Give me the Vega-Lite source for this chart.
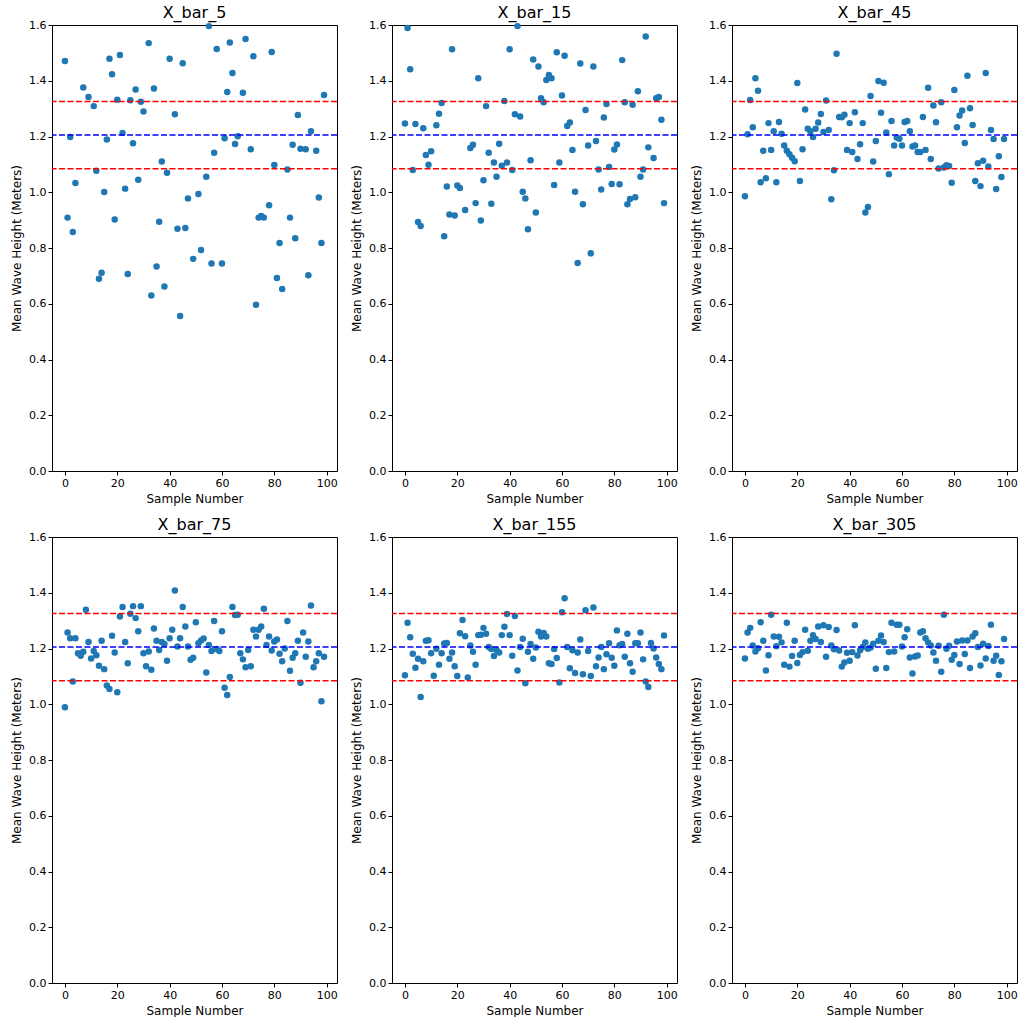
{
  "$schema": "https://vega.github.io/schema/vega-lite/v6.json",
  "background": "white",
  "padding": {"left": 10, "top": 4, "right": 5, "bottom": 0},
  "config": {
    "font": "DejaVu Sans",
    "view": {"stroke": "black", "strokeWidth": 1},
    "axis": {
      "grid": false, "domain": false, "tickColor": "black", "labelColor": "black", "titleColor": "black",
      "labelFontSize": 11, "titleFontSize": 12, "titleFontWeight": "normal", "tickSize": 4, "titlePadding": 5,
      "labelFont": "DejaVu Sans", "titleFont": "DejaVu Sans"
    },
    "header": {"labelFontSize": 16, "labelFont": "DejaVu Sans", "labelColor": "black", "labelPadding": -2}
  },
  "data": {"values": [
    {"panel":"X_bar_5","sample":0,"mean":1.471},{"panel":"X_bar_5","sample":1,"mean":0.909},{"panel":"X_bar_5","sample":2,"mean":1.198},{"panel":"X_bar_5","sample":3,"mean":0.857},{"panel":"X_bar_5","sample":4,"mean":1.033},{"panel":"X_bar_5","sample":7,"mean":1.376},{"panel":"X_bar_5","sample":9,"mean":1.342},{"panel":"X_bar_5","sample":11,"mean":1.309},{"panel":"X_bar_5","sample":12,"mean":1.077},{"panel":"X_bar_5","sample":13,"mean":0.690},
    {"panel":"X_bar_5","sample":14,"mean":0.711},{"panel":"X_bar_5","sample":15,"mean":1.001},{"panel":"X_bar_5","sample":16,"mean":1.189},{"panel":"X_bar_5","sample":17,"mean":1.479},{"panel":"X_bar_5","sample":18,"mean":1.423},{"panel":"X_bar_5","sample":19,"mean":0.902},{"panel":"X_bar_5","sample":20,"mean":1.332},{"panel":"X_bar_5","sample":21,"mean":1.492},{"panel":"X_bar_5","sample":22,"mean":1.213},{"panel":"X_bar_5","sample":23,"mean":1.013},
    {"panel":"X_bar_5","sample":24,"mean":0.707},{"panel":"X_bar_5","sample":25,"mean":1.330},{"panel":"X_bar_5","sample":26,"mean":1.176},{"panel":"X_bar_5","sample":27,"mean":1.369},{"panel":"X_bar_5","sample":28,"mean":1.045},{"panel":"X_bar_5","sample":29,"mean":1.325},{"panel":"X_bar_5","sample":30,"mean":1.290},{"panel":"X_bar_5","sample":32,"mean":1.535},{"panel":"X_bar_5","sample":33,"mean":0.630},{"panel":"X_bar_5","sample":34,"mean":1.372},
    {"panel":"X_bar_5","sample":35,"mean":0.734},{"panel":"X_bar_5","sample":36,"mean":0.894},{"panel":"X_bar_5","sample":37,"mean":1.110},{"panel":"X_bar_5","sample":38,"mean":0.662},{"panel":"X_bar_5","sample":39,"mean":1.070},{"panel":"X_bar_5","sample":40,"mean":1.479},{"panel":"X_bar_5","sample":42,"mean":1.280},{"panel":"X_bar_5","sample":43,"mean":0.869},{"panel":"X_bar_5","sample":44,"mean":0.556},{"panel":"X_bar_5","sample":45,"mean":1.463},
    {"panel":"X_bar_5","sample":46,"mean":0.872},{"panel":"X_bar_5","sample":47,"mean":0.978},{"panel":"X_bar_5","sample":49,"mean":0.761},{"panel":"X_bar_5","sample":51,"mean":0.994},{"panel":"X_bar_5","sample":52,"mean":0.793},{"panel":"X_bar_5","sample":54,"mean":1.056},{"panel":"X_bar_5","sample":55,"mean":1.596},{"panel":"X_bar_5","sample":56,"mean":0.744},{"panel":"X_bar_5","sample":57,"mean":1.142},{"panel":"X_bar_5","sample":58,"mean":1.514},
    {"panel":"X_bar_5","sample":60,"mean":0.744},{"panel":"X_bar_5","sample":61,"mean":1.194},{"panel":"X_bar_5","sample":62,"mean":1.360},{"panel":"X_bar_5","sample":63,"mean":1.537},{"panel":"X_bar_5","sample":64,"mean":1.428},{"panel":"X_bar_5","sample":65,"mean":1.173},{"panel":"X_bar_5","sample":66,"mean":1.201},{"panel":"X_bar_5","sample":68,"mean":1.357},{"panel":"X_bar_5","sample":69,"mean":1.550},{"panel":"X_bar_5","sample":71,"mean":1.154},
    {"panel":"X_bar_5","sample":72,"mean":1.488},{"panel":"X_bar_5","sample":73,"mean":0.596},{"panel":"X_bar_5","sample":74,"mean":0.909},{"panel":"X_bar_5","sample":75,"mean":0.915},{"panel":"X_bar_5","sample":76,"mean":0.909},{"panel":"X_bar_5","sample":78,"mean":0.953},{"panel":"X_bar_5","sample":79,"mean":1.503},{"panel":"X_bar_5","sample":80,"mean":1.098},{"panel":"X_bar_5","sample":81,"mean":0.692},{"panel":"X_bar_5","sample":82,"mean":0.818},
    {"panel":"X_bar_5","sample":83,"mean":0.653},{"panel":"X_bar_5","sample":85,"mean":1.082},{"panel":"X_bar_5","sample":86,"mean":0.909},{"panel":"X_bar_5","sample":87,"mean":1.170},{"panel":"X_bar_5","sample":88,"mean":0.835},{"panel":"X_bar_5","sample":89,"mean":1.277},{"panel":"X_bar_5","sample":90,"mean":1.156},{"panel":"X_bar_5","sample":92,"mean":1.154},{"panel":"X_bar_5","sample":93,"mean":0.702},{"panel":"X_bar_5","sample":94,"mean":1.219},
    {"panel":"X_bar_5","sample":96,"mean":1.149},{"panel":"X_bar_5","sample":97,"mean":0.981},{"panel":"X_bar_5","sample":98,"mean":0.818},{"panel":"X_bar_5","sample":99,"mean":1.349},

    {"panel":"X_bar_15","sample":0,"mean":1.247},{"panel":"X_bar_15","sample":1,"mean":1.589},{"panel":"X_bar_15","sample":2,"mean":1.441},{"panel":"X_bar_15","sample":3,"mean":1.080},{"panel":"X_bar_15","sample":4,"mean":1.245},{"panel":"X_bar_15","sample":5,"mean":0.893},{"panel":"X_bar_15","sample":6,"mean":0.879},{"panel":"X_bar_15","sample":7,"mean":1.230},{"panel":"X_bar_15","sample":8,"mean":1.134},{"panel":"X_bar_15","sample":9,"mean":1.099},
    {"panel":"X_bar_15","sample":10,"mean":1.147},{"panel":"X_bar_15","sample":12,"mean":1.240},{"panel":"X_bar_15","sample":13,"mean":1.282},{"panel":"X_bar_15","sample":14,"mean":1.320},{"panel":"X_bar_15","sample":15,"mean":0.842},{"panel":"X_bar_15","sample":16,"mean":1.021},{"panel":"X_bar_15","sample":17,"mean":0.920},{"panel":"X_bar_15","sample":18,"mean":1.513},{"panel":"X_bar_15","sample":19,"mean":0.917},{"panel":"X_bar_15","sample":20,"mean":1.024},
    {"panel":"X_bar_15","sample":21,"mean":1.015},{"panel":"X_bar_15","sample":23,"mean":0.936},{"panel":"X_bar_15","sample":25,"mean":1.159},{"panel":"X_bar_15","sample":26,"mean":1.170},{"panel":"X_bar_15","sample":27,"mean":0.961},{"panel":"X_bar_15","sample":28,"mean":1.409},{"panel":"X_bar_15","sample":29,"mean":0.899},{"panel":"X_bar_15","sample":30,"mean":1.043},{"panel":"X_bar_15","sample":31,"mean":1.309},{"panel":"X_bar_15","sample":32,"mean":1.142},
    {"panel":"X_bar_15","sample":33,"mean":0.959},{"panel":"X_bar_15","sample":34,"mean":1.107},{"panel":"X_bar_15","sample":35,"mean":1.056},{"panel":"X_bar_15","sample":36,"mean":1.174},{"panel":"X_bar_15","sample":37,"mean":1.095},{"panel":"X_bar_15","sample":38,"mean":1.327},{"panel":"X_bar_15","sample":39,"mean":1.107},{"panel":"X_bar_15","sample":40,"mean":1.513},{"panel":"X_bar_15","sample":41,"mean":1.080},{"panel":"X_bar_15","sample":42,"mean":1.280},
    {"panel":"X_bar_15","sample":43,"mean":1.596},{"panel":"X_bar_15","sample":44,"mean":1.272},{"panel":"X_bar_15","sample":45,"mean":1.002},{"panel":"X_bar_15","sample":46,"mean":0.978},{"panel":"X_bar_15","sample":47,"mean":0.867},{"panel":"X_bar_15","sample":48,"mean":1.115},{"panel":"X_bar_15","sample":49,"mean":1.476},{"panel":"X_bar_15","sample":50,"mean":0.927},{"panel":"X_bar_15","sample":51,"mean":1.451},{"panel":"X_bar_15","sample":52,"mean":1.337},
    {"panel":"X_bar_15","sample":53,"mean":1.323},{"panel":"X_bar_15","sample":54,"mean":1.403},{"panel":"X_bar_15","sample":55,"mean":1.421},{"panel":"X_bar_15","sample":56,"mean":1.409},{"panel":"X_bar_15","sample":57,"mean":1.026},{"panel":"X_bar_15","sample":58,"mean":1.502},{"panel":"X_bar_15","sample":59,"mean":1.107},{"panel":"X_bar_15","sample":60,"mean":1.347},{"panel":"X_bar_15","sample":61,"mean":1.490},{"panel":"X_bar_15","sample":62,"mean":1.238},
    {"panel":"X_bar_15","sample":63,"mean":1.250},{"panel":"X_bar_15","sample":64,"mean":1.152},{"panel":"X_bar_15","sample":65,"mean":1.002},{"panel":"X_bar_15","sample":66,"mean":0.746},{"panel":"X_bar_15","sample":67,"mean":1.462},{"panel":"X_bar_15","sample":68,"mean":0.957},{"panel":"X_bar_15","sample":69,"mean":1.295},{"panel":"X_bar_15","sample":70,"mean":1.168},{"panel":"X_bar_15","sample":71,"mean":0.781},{"panel":"X_bar_15","sample":72,"mean":1.451},
    {"panel":"X_bar_15","sample":73,"mean":1.184},{"panel":"X_bar_15","sample":74,"mean":1.082},{"panel":"X_bar_15","sample":75,"mean":1.010},{"panel":"X_bar_15","sample":76,"mean":1.268},{"panel":"X_bar_15","sample":77,"mean":1.317},{"panel":"X_bar_15","sample":78,"mean":1.091},{"panel":"X_bar_15","sample":79,"mean":1.030},{"panel":"X_bar_15","sample":80,"mean":1.153},{"panel":"X_bar_15","sample":81,"mean":1.171},{"panel":"X_bar_15","sample":82,"mean":1.029},
    {"panel":"X_bar_15","sample":83,"mean":1.474},{"panel":"X_bar_15","sample":84,"mean":1.323},{"panel":"X_bar_15","sample":85,"mean":0.957},{"panel":"X_bar_15","sample":86,"mean":0.976},{"panel":"X_bar_15","sample":87,"mean":1.314},{"panel":"X_bar_15","sample":88,"mean":0.982},{"panel":"X_bar_15","sample":89,"mean":1.362},{"panel":"X_bar_15","sample":90,"mean":1.056},{"panel":"X_bar_15","sample":91,"mean":1.082},{"panel":"X_bar_15","sample":92,"mean":1.559},
    {"panel":"X_bar_15","sample":93,"mean":1.161},{"panel":"X_bar_15","sample":95,"mean":1.123},{"panel":"X_bar_15","sample":96,"mean":1.337},{"panel":"X_bar_15","sample":97,"mean":1.342},{"panel":"X_bar_15","sample":98,"mean":1.260},{"panel":"X_bar_15","sample":99,"mean":0.961},

    {"panel":"X_bar_45","sample":0,"mean":0.986},{"panel":"X_bar_45","sample":1,"mean":1.208},{"panel":"X_bar_45","sample":2,"mean":1.331},{"panel":"X_bar_45","sample":3,"mean":1.233},{"panel":"X_bar_45","sample":4,"mean":1.409},{"panel":"X_bar_45","sample":5,"mean":1.364},{"panel":"X_bar_45","sample":6,"mean":1.036},{"panel":"X_bar_45","sample":7,"mean":1.149},{"panel":"X_bar_45","sample":8,"mean":1.050},{"panel":"X_bar_45","sample":9,"mean":1.248},
    {"panel":"X_bar_45","sample":10,"mean":1.152},{"panel":"X_bar_45","sample":11,"mean":1.219},{"panel":"X_bar_45","sample":12,"mean":1.036},{"panel":"X_bar_45","sample":13,"mean":1.252},{"panel":"X_bar_45","sample":14,"mean":1.210},{"panel":"X_bar_45","sample":15,"mean":1.168},{"panel":"X_bar_45","sample":16,"mean":1.149},{"panel":"X_bar_45","sample":17,"mean":1.136},{"panel":"X_bar_45","sample":18,"mean":1.124},{"panel":"X_bar_45","sample":19,"mean":1.111},
    {"panel":"X_bar_45","sample":20,"mean":1.392},{"panel":"X_bar_45","sample":21,"mean":1.040},{"panel":"X_bar_45","sample":22,"mean":1.154},{"panel":"X_bar_45","sample":23,"mean":1.297},{"panel":"X_bar_45","sample":24,"mean":1.228},{"panel":"X_bar_45","sample":25,"mean":1.219},{"panel":"X_bar_45","sample":26,"mean":1.198},{"panel":"X_bar_45","sample":27,"mean":1.228},{"panel":"X_bar_45","sample":28,"mean":1.250},{"panel":"X_bar_45","sample":29,"mean":1.281},
    {"panel":"X_bar_45","sample":30,"mean":1.216},{"panel":"X_bar_45","sample":31,"mean":1.329},{"panel":"X_bar_45","sample":32,"mean":1.223},{"panel":"X_bar_45","sample":33,"mean":0.975},{"panel":"X_bar_45","sample":34,"mean":1.079},{"panel":"X_bar_45","sample":35,"mean":1.497},{"panel":"X_bar_45","sample":36,"mean":1.270},{"panel":"X_bar_45","sample":37,"mean":1.269},{"panel":"X_bar_45","sample":38,"mean":1.278},{"panel":"X_bar_45","sample":39,"mean":1.152},
    {"panel":"X_bar_45","sample":40,"mean":1.248},{"panel":"X_bar_45","sample":41,"mean":1.144},{"panel":"X_bar_45","sample":42,"mean":1.287},{"panel":"X_bar_45","sample":43,"mean":1.119},{"panel":"X_bar_45","sample":44,"mean":1.172},{"panel":"X_bar_45","sample":45,"mean":1.248},{"panel":"X_bar_45","sample":46,"mean":0.927},{"panel":"X_bar_45","sample":47,"mean":0.947},{"panel":"X_bar_45","sample":48,"mean":1.345},{"panel":"X_bar_45","sample":49,"mean":1.110},
    {"panel":"X_bar_45","sample":50,"mean":1.184},{"panel":"X_bar_45","sample":51,"mean":1.399},{"panel":"X_bar_45","sample":52,"mean":1.285},{"panel":"X_bar_45","sample":53,"mean":1.393},{"panel":"X_bar_45","sample":54,"mean":1.214},{"panel":"X_bar_45","sample":55,"mean":1.065},{"panel":"X_bar_45","sample":56,"mean":1.256},{"panel":"X_bar_45","sample":57,"mean":1.168},{"panel":"X_bar_45","sample":58,"mean":1.196},{"panel":"X_bar_45","sample":59,"mean":1.192},
    {"panel":"X_bar_45","sample":60,"mean":1.168},{"panel":"X_bar_45","sample":61,"mean":1.252},{"panel":"X_bar_45","sample":62,"mean":1.256},{"panel":"X_bar_45","sample":63,"mean":1.219},{"panel":"X_bar_45","sample":64,"mean":1.164},{"panel":"X_bar_45","sample":65,"mean":1.168},{"panel":"X_bar_45","sample":66,"mean":1.144},{"panel":"X_bar_45","sample":67,"mean":1.144},{"panel":"X_bar_45","sample":68,"mean":1.270},{"panel":"X_bar_45","sample":69,"mean":1.152},
    {"panel":"X_bar_45","sample":70,"mean":1.375},{"panel":"X_bar_45","sample":71,"mean":1.119},{"panel":"X_bar_45","sample":72,"mean":1.311},{"panel":"X_bar_45","sample":73,"mean":1.251},{"panel":"X_bar_45","sample":74,"mean":1.085},{"panel":"X_bar_45","sample":75,"mean":1.323},{"panel":"X_bar_45","sample":76,"mean":1.089},{"panel":"X_bar_45","sample":77,"mean":1.097},{"panel":"X_bar_45","sample":78,"mean":1.094},{"panel":"X_bar_45","sample":79,"mean":1.034},
    {"panel":"X_bar_45","sample":80,"mean":1.367},{"panel":"X_bar_45","sample":81,"mean":1.233},{"panel":"X_bar_45","sample":82,"mean":1.275},{"panel":"X_bar_45","sample":83,"mean":1.293},{"panel":"X_bar_45","sample":84,"mean":1.177},{"panel":"X_bar_45","sample":85,"mean":1.418},{"panel":"X_bar_45","sample":86,"mean":1.301},{"panel":"X_bar_45","sample":87,"mean":1.241},{"panel":"X_bar_45","sample":88,"mean":1.040},{"panel":"X_bar_45","sample":89,"mean":1.104},
    {"panel":"X_bar_45","sample":90,"mean":1.022},{"panel":"X_bar_45","sample":91,"mean":1.113},{"panel":"X_bar_45","sample":92,"mean":1.428},{"panel":"X_bar_45","sample":93,"mean":1.092},{"panel":"X_bar_45","sample":94,"mean":1.223},{"panel":"X_bar_45","sample":95,"mean":1.191},{"panel":"X_bar_45","sample":96,"mean":1.012},{"panel":"X_bar_45","sample":97,"mean":1.129},{"panel":"X_bar_45","sample":98,"mean":1.055},{"panel":"X_bar_45","sample":99,"mean":1.191},

    {"panel":"X_bar_75","sample":0,"mean":0.989},{"panel":"X_bar_75","sample":1,"mean":1.257},{"panel":"X_bar_75","sample":2,"mean":1.237},{"panel":"X_bar_75","sample":3,"mean":1.082},{"panel":"X_bar_75","sample":4,"mean":1.237},{"panel":"X_bar_75","sample":5,"mean":1.183},{"panel":"X_bar_75","sample":6,"mean":1.174},{"panel":"X_bar_75","sample":7,"mean":1.188},{"panel":"X_bar_75","sample":8,"mean":1.339},{"panel":"X_bar_75","sample":9,"mean":1.223},
    {"panel":"X_bar_75","sample":10,"mean":1.164},{"panel":"X_bar_75","sample":11,"mean":1.191},{"panel":"X_bar_75","sample":12,"mean":1.176},{"panel":"X_bar_75","sample":13,"mean":1.138},{"panel":"X_bar_75","sample":14,"mean":1.228},{"panel":"X_bar_75","sample":15,"mean":1.126},{"panel":"X_bar_75","sample":16,"mean":1.067},{"panel":"X_bar_75","sample":17,"mean":1.055},{"panel":"X_bar_75","sample":18,"mean":1.246},{"panel":"X_bar_75","sample":19,"mean":1.186},
    {"panel":"X_bar_75","sample":20,"mean":1.043},{"panel":"X_bar_75","sample":21,"mean":1.315},{"panel":"X_bar_75","sample":22,"mean":1.349},{"panel":"X_bar_75","sample":23,"mean":1.223},{"panel":"X_bar_75","sample":24,"mean":1.147},{"panel":"X_bar_75","sample":25,"mean":1.325},{"panel":"X_bar_75","sample":26,"mean":1.352},{"panel":"X_bar_75","sample":27,"mean":1.309},{"panel":"X_bar_75","sample":28,"mean":1.262},{"panel":"X_bar_75","sample":29,"mean":1.352},
    {"panel":"X_bar_75","sample":30,"mean":1.183},{"panel":"X_bar_75","sample":31,"mean":1.136},{"panel":"X_bar_75","sample":32,"mean":1.189},{"panel":"X_bar_75","sample":33,"mean":1.124},{"panel":"X_bar_75","sample":34,"mean":1.272},{"panel":"X_bar_75","sample":35,"mean":1.228},{"panel":"X_bar_75","sample":36,"mean":1.195},{"panel":"X_bar_75","sample":37,"mean":1.223},{"panel":"X_bar_75","sample":38,"mean":1.216},{"panel":"X_bar_75","sample":39,"mean":1.156},
    {"panel":"X_bar_75","sample":40,"mean":1.237},{"panel":"X_bar_75","sample":41,"mean":1.267},{"panel":"X_bar_75","sample":42,"mean":1.408},{"panel":"X_bar_75","sample":43,"mean":1.207},{"panel":"X_bar_75","sample":44,"mean":1.237},{"panel":"X_bar_75","sample":45,"mean":1.349},{"panel":"X_bar_75","sample":46,"mean":1.279},{"panel":"X_bar_75","sample":47,"mean":1.207},{"panel":"X_bar_75","sample":48,"mean":1.160},{"panel":"X_bar_75","sample":49,"mean":1.167},
    {"panel":"X_bar_75","sample":50,"mean":1.294},{"panel":"X_bar_75","sample":51,"mean":1.219},{"panel":"X_bar_75","sample":52,"mean":1.229},{"panel":"X_bar_75","sample":53,"mean":1.236},{"panel":"X_bar_75","sample":54,"mean":1.114},{"panel":"X_bar_75","sample":55,"mean":1.213},{"panel":"X_bar_75","sample":56,"mean":1.191},{"panel":"X_bar_75","sample":57,"mean":1.299},{"panel":"X_bar_75","sample":58,"mean":1.198},{"panel":"X_bar_75","sample":59,"mean":1.191},
    {"panel":"X_bar_75","sample":60,"mean":1.262},{"panel":"X_bar_75","sample":61,"mean":1.059},{"panel":"X_bar_75","sample":62,"mean":1.033},{"panel":"X_bar_75","sample":63,"mean":1.098},{"panel":"X_bar_75","sample":64,"mean":1.349},{"panel":"X_bar_75","sample":65,"mean":1.320},{"panel":"X_bar_75","sample":66,"mean":1.321},{"panel":"X_bar_75","sample":67,"mean":1.183},{"panel":"X_bar_75","sample":68,"mean":1.161},{"panel":"X_bar_75","sample":69,"mean":1.133},
    {"panel":"X_bar_75","sample":70,"mean":1.195},{"panel":"X_bar_75","sample":71,"mean":1.136},{"panel":"X_bar_75","sample":72,"mean":1.267},{"panel":"X_bar_75","sample":73,"mean":1.243},{"panel":"X_bar_75","sample":74,"mean":1.267},{"panel":"X_bar_75","sample":75,"mean":1.279},{"panel":"X_bar_75","sample":76,"mean":1.343},{"panel":"X_bar_75","sample":77,"mean":1.213},{"panel":"X_bar_75","sample":78,"mean":1.243},{"panel":"X_bar_75","sample":79,"mean":1.193},
    {"panel":"X_bar_75","sample":80,"mean":1.225},{"panel":"X_bar_75","sample":81,"mean":1.232},{"panel":"X_bar_75","sample":82,"mean":1.181},{"panel":"X_bar_75","sample":83,"mean":1.154},{"panel":"X_bar_75","sample":84,"mean":1.200},{"panel":"X_bar_75","sample":85,"mean":1.299},{"panel":"X_bar_75","sample":86,"mean":1.120},{"panel":"X_bar_75","sample":87,"mean":1.167},{"panel":"X_bar_75","sample":88,"mean":1.183},{"panel":"X_bar_75","sample":89,"mean":1.228},
    {"panel":"X_bar_75","sample":90,"mean":1.077},{"panel":"X_bar_75","sample":91,"mean":1.257},{"panel":"X_bar_75","sample":92,"mean":1.170},{"panel":"X_bar_75","sample":93,"mean":1.225},{"panel":"X_bar_75","sample":94,"mean":1.354},{"panel":"X_bar_75","sample":95,"mean":1.133},{"panel":"X_bar_75","sample":96,"mean":1.154},{"panel":"X_bar_75","sample":97,"mean":1.183},{"panel":"X_bar_75","sample":98,"mean":1.011},{"panel":"X_bar_75","sample":99,"mean":1.170},

    {"panel":"X_bar_155","sample":0,"mean":1.104},{"panel":"X_bar_155","sample":1,"mean":1.292},{"panel":"X_bar_155","sample":2,"mean":1.240},{"panel":"X_bar_155","sample":3,"mean":1.181},{"panel":"X_bar_155","sample":4,"mean":1.131},{"panel":"X_bar_155","sample":5,"mean":1.163},{"panel":"X_bar_155","sample":6,"mean":1.026},{"panel":"X_bar_155","sample":7,"mean":1.154},{"panel":"X_bar_155","sample":8,"mean":1.228},{"panel":"X_bar_155","sample":9,"mean":1.230},
    {"panel":"X_bar_155","sample":10,"mean":1.183},{"panel":"X_bar_155","sample":11,"mean":1.102},{"panel":"X_bar_155","sample":12,"mean":1.199},{"panel":"X_bar_155","sample":13,"mean":1.142},{"panel":"X_bar_155","sample":14,"mean":1.183},{"panel":"X_bar_155","sample":15,"mean":1.218},{"panel":"X_bar_155","sample":16,"mean":1.220},{"panel":"X_bar_155","sample":17,"mean":1.163},{"panel":"X_bar_155","sample":18,"mean":1.186},{"panel":"X_bar_155","sample":19,"mean":1.136},
    {"panel":"X_bar_155","sample":20,"mean":1.101},{"panel":"X_bar_155","sample":21,"mean":1.255},{"panel":"X_bar_155","sample":22,"mean":1.302},{"panel":"X_bar_155","sample":23,"mean":1.244},{"panel":"X_bar_155","sample":24,"mean":1.096},{"panel":"X_bar_155","sample":25,"mean":1.211},{"panel":"X_bar_155","sample":26,"mean":1.188},{"panel":"X_bar_155","sample":27,"mean":1.142},{"panel":"X_bar_155","sample":28,"mean":1.248},{"panel":"X_bar_155","sample":29,"mean":1.249},
    {"panel":"X_bar_155","sample":30,"mean":1.274},{"panel":"X_bar_155","sample":31,"mean":1.253},{"panel":"X_bar_155","sample":32,"mean":1.205},{"panel":"X_bar_155","sample":33,"mean":1.198},{"panel":"X_bar_155","sample":34,"mean":1.173},{"panel":"X_bar_155","sample":35,"mean":1.195},{"panel":"X_bar_155","sample":36,"mean":1.186},{"panel":"X_bar_155","sample":37,"mean":1.248},{"panel":"X_bar_155","sample":38,"mean":1.278},{"panel":"X_bar_155","sample":39,"mean":1.324},
    {"panel":"X_bar_155","sample":40,"mean":1.248},{"panel":"X_bar_155","sample":41,"mean":1.174},{"panel":"X_bar_155","sample":42,"mean":1.317},{"panel":"X_bar_155","sample":43,"mean":1.121},{"panel":"X_bar_155","sample":44,"mean":1.205},{"panel":"X_bar_155","sample":45,"mean":1.235},{"panel":"X_bar_155","sample":46,"mean":1.075},{"panel":"X_bar_155","sample":47,"mean":1.188},{"panel":"X_bar_155","sample":48,"mean":1.216},{"panel":"X_bar_155","sample":49,"mean":1.163},
    {"panel":"X_bar_155","sample":50,"mean":1.204},{"panel":"X_bar_155","sample":51,"mean":1.260},{"panel":"X_bar_155","sample":52,"mean":1.243},{"panel":"X_bar_155","sample":53,"mean":1.256},{"panel":"X_bar_155","sample":54,"mean":1.243},{"panel":"X_bar_155","sample":55,"mean":1.147},{"panel":"X_bar_155","sample":56,"mean":1.144},{"panel":"X_bar_155","sample":57,"mean":1.198},{"panel":"X_bar_155","sample":58,"mean":1.166},{"panel":"X_bar_155","sample":59,"mean":1.078},
    {"panel":"X_bar_155","sample":60,"mean":1.330},{"panel":"X_bar_155","sample":61,"mean":1.380},{"panel":"X_bar_155","sample":62,"mean":1.205},{"panel":"X_bar_155","sample":63,"mean":1.129},{"panel":"X_bar_155","sample":64,"mean":1.194},{"panel":"X_bar_155","sample":65,"mean":1.112},{"panel":"X_bar_155","sample":66,"mean":1.186},{"panel":"X_bar_155","sample":67,"mean":1.232},{"panel":"X_bar_155","sample":68,"mean":1.108},{"panel":"X_bar_155","sample":69,"mean":1.337},
    {"panel":"X_bar_155","sample":70,"mean":1.191},{"panel":"X_bar_155","sample":71,"mean":1.101},{"panel":"X_bar_155","sample":72,"mean":1.347},{"panel":"X_bar_155","sample":73,"mean":1.136},{"panel":"X_bar_155","sample":74,"mean":1.168},{"panel":"X_bar_155","sample":75,"mean":1.205},{"panel":"X_bar_155","sample":76,"mean":1.126},{"panel":"X_bar_155","sample":77,"mean":1.179},{"panel":"X_bar_155","sample":78,"mean":1.219},{"panel":"X_bar_155","sample":79,"mean":1.167},
    {"panel":"X_bar_155","sample":80,"mean":1.138},{"panel":"X_bar_155","sample":81,"mean":1.265},{"panel":"X_bar_155","sample":82,"mean":1.212},{"panel":"X_bar_155","sample":83,"mean":1.216},{"panel":"X_bar_155","sample":84,"mean":1.170},{"panel":"X_bar_155","sample":85,"mean":1.253},{"panel":"X_bar_155","sample":86,"mean":1.147},{"panel":"X_bar_155","sample":87,"mean":1.117},{"panel":"X_bar_155","sample":88,"mean":1.219},{"panel":"X_bar_155","sample":89,"mean":1.219},
    {"panel":"X_bar_155","sample":90,"mean":1.257},{"panel":"X_bar_155","sample":91,"mean":1.161},{"panel":"X_bar_155","sample":92,"mean":1.082},{"panel":"X_bar_155","sample":93,"mean":1.062},{"panel":"X_bar_155","sample":94,"mean":1.220},{"panel":"X_bar_155","sample":95,"mean":1.200},{"panel":"X_bar_155","sample":96,"mean":1.168},{"panel":"X_bar_155","sample":97,"mean":1.144},{"panel":"X_bar_155","sample":98,"mean":1.126},{"panel":"X_bar_155","sample":99,"mean":1.247},

    {"panel":"X_bar_305","sample":0,"mean":1.164},{"panel":"X_bar_305","sample":1,"mean":1.257},{"panel":"X_bar_305","sample":2,"mean":1.274},{"panel":"X_bar_305","sample":3,"mean":1.211},{"panel":"X_bar_305","sample":4,"mean":1.189},{"panel":"X_bar_305","sample":5,"mean":1.201},{"panel":"X_bar_305","sample":6,"mean":1.294},{"panel":"X_bar_305","sample":7,"mean":1.228},{"panel":"X_bar_305","sample":8,"mean":1.121},{"panel":"X_bar_305","sample":9,"mean":1.176},
    {"panel":"X_bar_305","sample":10,"mean":1.321},{"panel":"X_bar_305","sample":11,"mean":1.243},{"panel":"X_bar_305","sample":12,"mean":1.208},{"panel":"X_bar_305","sample":13,"mean":1.242},{"panel":"X_bar_305","sample":14,"mean":1.222},{"panel":"X_bar_305","sample":15,"mean":1.142},{"panel":"X_bar_305","sample":16,"mean":1.292},{"panel":"X_bar_305","sample":17,"mean":1.135},{"panel":"X_bar_305","sample":18,"mean":1.173},{"panel":"X_bar_305","sample":19,"mean":1.228},
    {"panel":"X_bar_305","sample":20,"mean":1.148},{"panel":"X_bar_305","sample":21,"mean":1.177},{"panel":"X_bar_305","sample":22,"mean":1.187},{"panel":"X_bar_305","sample":23,"mean":1.267},{"panel":"X_bar_305","sample":24,"mean":1.192},{"panel":"X_bar_305","sample":25,"mean":1.228},{"panel":"X_bar_305","sample":26,"mean":1.248},{"panel":"X_bar_305","sample":27,"mean":1.234},{"panel":"X_bar_305","sample":28,"mean":1.279},{"panel":"X_bar_305","sample":29,"mean":1.223},
    {"panel":"X_bar_305","sample":30,"mean":1.283},{"panel":"X_bar_305","sample":31,"mean":1.170},{"panel":"X_bar_305","sample":32,"mean":1.277},{"panel":"X_bar_305","sample":33,"mean":1.211},{"panel":"X_bar_305","sample":34,"mean":1.197},{"panel":"X_bar_305","sample":35,"mean":1.266},{"panel":"X_bar_305","sample":36,"mean":1.193},{"panel":"X_bar_305","sample":37,"mean":1.135},{"panel":"X_bar_305","sample":38,"mean":1.150},{"panel":"X_bar_305","sample":39,"mean":1.185},
    {"panel":"X_bar_305","sample":40,"mean":1.156},{"panel":"X_bar_305","sample":41,"mean":1.187},{"panel":"X_bar_305","sample":42,"mean":1.283},{"panel":"X_bar_305","sample":43,"mean":1.175},{"panel":"X_bar_305","sample":44,"mean":1.194},{"panel":"X_bar_305","sample":45,"mean":1.205},{"panel":"X_bar_305","sample":46,"mean":1.222},{"panel":"X_bar_305","sample":47,"mean":1.199},{"panel":"X_bar_305","sample":48,"mean":1.204},{"panel":"X_bar_305","sample":49,"mean":1.217},
    {"panel":"X_bar_305","sample":50,"mean":1.127},{"panel":"X_bar_305","sample":51,"mean":1.228},{"panel":"X_bar_305","sample":52,"mean":1.247},{"panel":"X_bar_305","sample":53,"mean":1.223},{"panel":"X_bar_305","sample":54,"mean":1.130},{"panel":"X_bar_305","sample":55,"mean":1.187},{"panel":"X_bar_305","sample":56,"mean":1.292},{"panel":"X_bar_305","sample":57,"mean":1.189},{"panel":"X_bar_305","sample":58,"mean":1.285},{"panel":"X_bar_305","sample":59,"mean":1.285},
    {"panel":"X_bar_305","sample":60,"mean":1.207},{"panel":"X_bar_305","sample":61,"mean":1.240},{"panel":"X_bar_305","sample":62,"mean":1.269},{"panel":"X_bar_305","sample":63,"mean":1.168},{"panel":"X_bar_305","sample":64,"mean":1.110},{"panel":"X_bar_305","sample":65,"mean":1.171},{"panel":"X_bar_305","sample":66,"mean":1.175},{"panel":"X_bar_305","sample":67,"mean":1.257},{"panel":"X_bar_305","sample":68,"mean":1.262},{"panel":"X_bar_305","sample":69,"mean":1.237},
    {"panel":"X_bar_305","sample":70,"mean":1.222},{"panel":"X_bar_305","sample":71,"mean":1.211},{"panel":"X_bar_305","sample":72,"mean":1.186},{"panel":"X_bar_305","sample":73,"mean":1.156},{"panel":"X_bar_305","sample":74,"mean":1.210},{"panel":"X_bar_305","sample":75,"mean":1.117},{"panel":"X_bar_305","sample":76,"mean":1.321},{"panel":"X_bar_305","sample":77,"mean":1.199},{"panel":"X_bar_305","sample":78,"mean":1.210},{"panel":"X_bar_305","sample":79,"mean":1.160},
    {"panel":"X_bar_305","sample":80,"mean":1.177},{"panel":"X_bar_305","sample":81,"mean":1.225},{"panel":"X_bar_305","sample":82,"mean":1.144},{"panel":"X_bar_305","sample":83,"mean":1.229},{"panel":"X_bar_305","sample":84,"mean":1.180},{"panel":"X_bar_305","sample":85,"mean":1.229},{"panel":"X_bar_305","sample":86,"mean":1.130},{"panel":"X_bar_305","sample":87,"mean":1.243},{"panel":"X_bar_305","sample":88,"mean":1.255},{"panel":"X_bar_305","sample":89,"mean":1.205},
    {"panel":"X_bar_305","sample":90,"mean":1.139},{"panel":"X_bar_305","sample":91,"mean":1.217},{"panel":"X_bar_305","sample":92,"mean":1.164},{"panel":"X_bar_305","sample":93,"mean":1.209},{"panel":"X_bar_305","sample":94,"mean":1.285},{"panel":"X_bar_305","sample":95,"mean":1.156},{"panel":"X_bar_305","sample":96,"mean":1.174},{"panel":"X_bar_305","sample":97,"mean":1.105},{"panel":"X_bar_305","sample":98,"mean":1.154},{"panel":"X_bar_305","sample":99,"mean":1.234}
  ]},
  "facet": {
    "field": "panel", "type": "nominal", "title": null,
    "sort": ["X_bar_5", "X_bar_15", "X_bar_45", "X_bar_75", "X_bar_155", "X_bar_305"]
  },
  "columns": 3,
  "spacing": {"row": 11, "column": 11},
  "resolve": {"axis": {"x": "independent", "y": "independent"}},
  "spec": {
    "width": 285,
    "height": 446,
    "layer": [
      {
        "mark": {"type": "point", "filled": true, "size": 42, "opacity": 1, "color": "#1f77b4"},
        "encoding": {
          "x": {
            "field": "sample", "type": "quantitative",
            "scale": {"domain": [-4.95, 103.95], "nice": false, "zero": false},
            "axis": {"values": [0, 20, 40, 60, 80, 100], "title": "Sample Number"}
          },
          "y": {
            "field": "mean", "type": "quantitative",
            "scale": {"domain": [0, 1.6], "nice": false},
            "axis": {"values": [0, 0.2, 0.4, 0.6, 0.8, 1.0, 1.2, 1.4, 1.6], "format": ".1f", "title": "Mean Wave Height (Meters)"}
          }
        }
      },
      {
        "transform": [{"filter": "datum.sample == 0"}],
        "mark": {"type": "rule", "color": "#ff0000", "strokeDash": [6, 2.5], "strokeWidth": 1.5},
        "encoding": {"y": {"datum": 1.326}}
      },
      {
        "transform": [{"filter": "datum.sample == 0"}],
        "mark": {"type": "rule", "color": "#0000ff", "strokeDash": [6, 2.5], "strokeWidth": 1.5},
        "encoding": {"y": {"datum": 1.205}}
      },
      {
        "transform": [{"filter": "datum.sample == 0"}],
        "mark": {"type": "rule", "color": "#ff0000", "strokeDash": [6, 2.5], "strokeWidth": 1.5},
        "encoding": {"y": {"datum": 1.084}}
      }
    ]
  }
}
